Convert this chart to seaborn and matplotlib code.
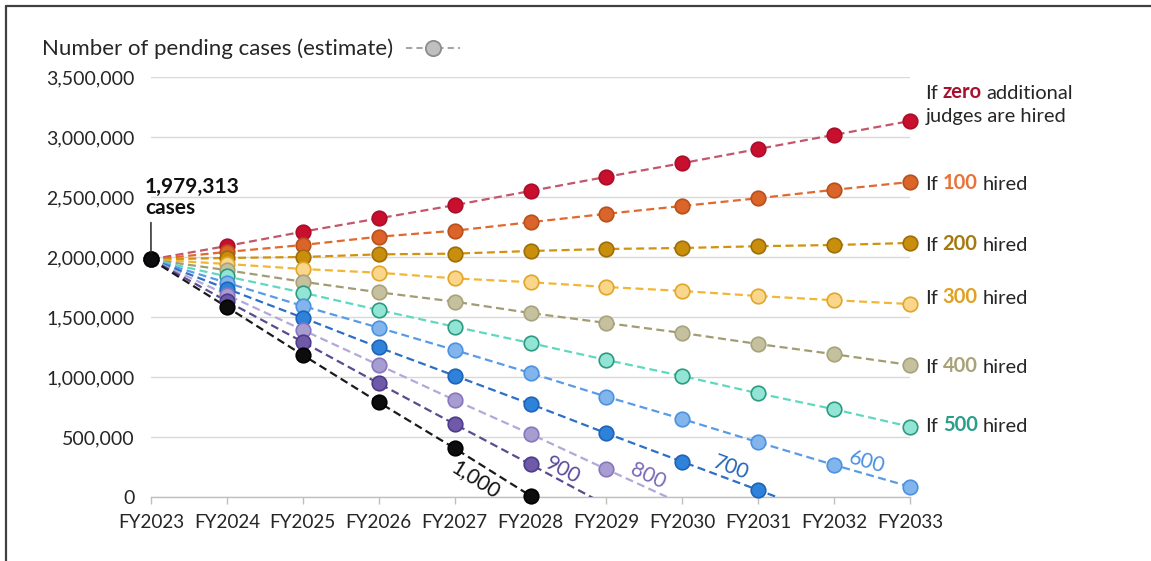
import numpy as np
import pandas as pd
import seaborn as sns
import matplotlib
matplotlib.use("Agg")
import matplotlib.pyplot as plt
from matplotlib.lines import Line2D
from matplotlib.ticker import FuncFormatter

# ---------------- data ----------------
years = ["FY2023", "FY2024", "FY2025", "FY2026", "FY2027", "FY2028",
         "FY2029", "FY2030", "FY2031", "FY2032", "FY2033"]
start_cases = 1979313

hired_0 = [1979313, 2092000, 2211000, 2322000, 2432000, 2550000, 2668000, 2782000, 2900000, 3018000, 3133000]
hired_100 = [1979313, 2042000, 2100000, 2169000, 2219000, 2290000, 2360000, 2425000, 2490000, 2560000, 2625000]
hired_200 = [1979313, 1992000, 2000000, 2022000, 2028000, 2050000, 2067000, 2075000, 2090000, 2100000, 2117000]
hired_300 = [1979313, 1942000, 1900000, 1869000, 1822000, 1790000, 1750000, 1717000, 1675000, 1640000, 1608000]
hired_400 = [1979313, 1890000, 1794000, 1706000, 1628000, 1533000, 1450000, 1367000, 1275000, 1190000, 1100000]
hired_500 = [1979313, 1838000, 1703000, 1558000, 1419000, 1283000, 1142000, 1008000, 864000, 731000, 586000]
hired_600 = [1979313, 1785000, 1592000, 1411000, 1225000, 1033000, 836000, 650000, 456000, 267000, 86000]
hired_700 = [1979313, 1735000, 1494000, 1247000, 1011000, 775000, 531000, 294000, 58000, -180000, None]
hired_800 = [1979313, 1685000, 1392000, 1100000, 808000, 525000, 231000, -58000, None, None, None]
hired_900 = [1979313, 1632000, 1292000, 947000, 608000, 272000, -68000, None, None, None, None]
hired_1000 = [1979313, 1583000, 1183000, 789000, 406000, 10000, None, None, None, None, None]

series_names = ["0", "100", "200", "300", "400", "500", "600", "700", "800", "900", "1000"]
series_values = [hired_0, hired_100, hired_200, hired_300, hired_400, hired_500,
                 hired_600, hired_700, hired_800, hired_900, hired_1000]

line_colors = ["#C4566C", "#E0692F", "#D0920F", "#F2B637", "#A39C73", "#5FD8C2",
               "#5A9BE6", "#2C6FC4", "#B2A8DA", "#5A4A8E", "#1A1A1A"]
face_colors = ["#C8102E", "#DA6429", "#C98F0C", "#FAD68C", "#C5C09E", "#92E4D4",
               "#82B5EC", "#2F82DA", "#A89DD0", "#6F5AAA", "#0D0D0D"]
edge_colors = ["#A80E2A", "#B8501C", "#9C6E08", "#E2A626", "#A8A27C", "#2C9A80",
               "#4D91E0", "#1F63B8", "#8676BE", "#4E3B8A", "#000000"]

right_labels = {"100": "#E8733A", "200": "#A67810", "300": "#E0A020",
                "400": "#A8A278", "500": "#2A9E88"}
right_dy = {"100": -1.5, "200": -1.5, "300": 4.0, "400": -1.5, "500": 0.0}

slope_labels = ["1,000", "900", "800", "700", "600"]
slope_series = ["1000", "900", "800", "700", "600"]
slope_colors = ["#111111", "#5A4A98", "#7A68B8", "#2563B5", "#4A90E2"]
slope_x = [4.28, 5.43, 6.55, 7.64, 9.43]
slope_dy = [-13.0, 8.5, 8.5, 9.0, 8.5]

# ---------------- style ----------------
sns.set_theme(style="white")
plt.rcParams["font.family"] = ["Lato", "DejaVu Sans"]
TXT = "#262626"

fig = plt.figure(figsize=(11.51, 5.61), dpi=100)
ax = fig.add_axes([151 / 1151, 64 / 561, (910 - 151) / 1151, (497 - 77) / 561])

xpos = list(range(len(years)))

for i, (name, vals) in enumerate(zip(series_names, series_values)):
    df = pd.DataFrame({"x": xpos, "y": [np.nan if v is None else v for v in vals]})
    sns.lineplot(data=df, x="x", y="y", ax=ax, color=line_colors[i], lw=1.6,
                 dashes=False, zorder=3 + i * 0.01)
    ax.lines[-1].set_dashes((3.6, 2.0))
    dfp = df[df["y"] >= 0]
    sns.scatterplot(data=dfp, x="x", y="y", ax=ax, color=face_colors[i],
                    edgecolor=edge_colors[i], linewidth=1.2, s=110,
                    clip_on=False, zorder=5 + i * 0.01)

ax.set_xlim(0, len(years) - 1)
ax.set_ylim(0, 3500000)
ax.set_yticks(np.arange(0, 3500001, 500000))
ax.yaxis.set_major_formatter(FuncFormatter(lambda v, p: f"{v:,.0f}"))
ax.set_xticks(xpos)
ax.set_xticklabels(years)
ax.set_xlabel("")
ax.set_ylabel("")
ax.grid(axis="y", color="#D9D9D9", lw=1)
ax.grid(axis="x", visible=False)
for s in ["left", "right", "top"]:
    ax.spines[s].set_visible(False)
ax.spines["bottom"].set_color("#BFBFBF")
ax.spines["bottom"].set_linewidth(1)
ax.spines["bottom"].set_zorder(2)
ax.tick_params(axis="y", length=0, pad=12, labelsize=14, labelcolor=TXT)
ax.tick_params(axis="x", length=5, width=1, color="#BFBFBF", pad=7,
               labelsize=13.6, labelcolor=TXT, bottom=True)

# legend
proxy = Line2D([0], [0], color="#A6A6A6", lw=1.5, dashes=(3, 2), marker="o",
               markersize=11, markerfacecolor="#BFBFBF", markeredgecolor="#8C8C8C",
               markeredgewidth=1.3)
fig.legend([proxy], ["Number of pending cases (estimate)"], loc="center left",
           bbox_to_anchor=(42 / 1151, 1 - 49 / 561), frameon=False,
           markerfirst=False, fontsize=16, handlelength=2.4, handletextpad=0.6,
           borderpad=0, borderaxespad=0, labelcolor=TXT)

# start annotation
ax.annotate("1,979,313\ncases", xy=(0, start_cases), xytext=(-4.5, 30),
            textcoords="offset points", ha="left", va="bottom", fontsize=15,
            fontweight="bold", color="#111111", linespacing=1.05,
            arrowprops=dict(arrowstyle="-", color="#262626", lw=1.1,
                            shrinkA=1, shrinkB=5, relpos=(0.065, 0.0)),
            zorder=10, annotation_clip=False)


def rich(pieces, xy, offset, fs=14.5, gap=3.3):
    t = None
    for j, (s, c, w) in enumerate(pieces):
        if j == 0:
            t = ax.annotate(s, xy=xy, xytext=offset, textcoords="offset points",
                            ha="left", va="center", fontsize=fs, color=c,
                            fontweight=w, annotation_clip=False)
        else:
            t = ax.annotate(s, xy=(1, 0), xycoords=t, xytext=(gap, 0),
                            textcoords="offset points", ha="left", va="bottom",
                            fontsize=fs, color=c, fontweight=w,
                            annotation_clip=False)
    return t


last = len(years) - 1
rich([("If", TXT, "normal"), ("zero", "#A8102D", "bold"), ("additional", TXT, "normal")],
     (last, hired_0[-1]), (11, 20))
rich([("judges are hired", TXT, "normal")], (last, hired_0[-1]), (11, 3))
for name, vals in zip(series_names, series_values):
    if name in right_labels:
        rich([("If", TXT, "normal"), (name, right_labels[name], "bold"),
              ("hired", TXT, "normal")], (last, vals[-1]), (11, right_dy[name]))

# sloped labels
fig.canvas.draw()
lookup = dict(zip(series_names, series_values))
for lab, sname, col, xl, dy in zip(slope_labels, slope_series, slope_colors, slope_x, slope_dy):
    vals = lookup[sname]
    i0 = int(np.floor(xl))
    y0, y1 = vals[i0], vals[i0 + 1]
    yl = y0 + (xl - i0) * (y1 - y0)
    p0 = ax.transData.transform((i0, y0))
    p1 = ax.transData.transform((i0 + 1, y1))
    ang = np.degrees(np.arctan2(p1[1] - p0[1], p1[0] - p0[0]))
    ax.annotate(lab, xy=(xl, yl), xytext=(0, dy), textcoords="offset points",
                ha="center", va="center", rotation=ang, rotation_mode="anchor",
                fontsize=15, color=col, annotation_clip=False, zorder=10)

# outer frame (top and left)
fig.add_artist(Line2D([6 / 1151, 1], [1 - 6 / 561, 1 - 6 / 561], transform=fig.transFigure,
                      color="#404040", lw=1.6))
fig.add_artist(Line2D([6 / 1151, 6 / 1151], [0, 1 - 6 / 561], transform=fig.transFigure,
                      color="#404040", lw=1.6))

fig.savefig("out.png", dpi=100)
